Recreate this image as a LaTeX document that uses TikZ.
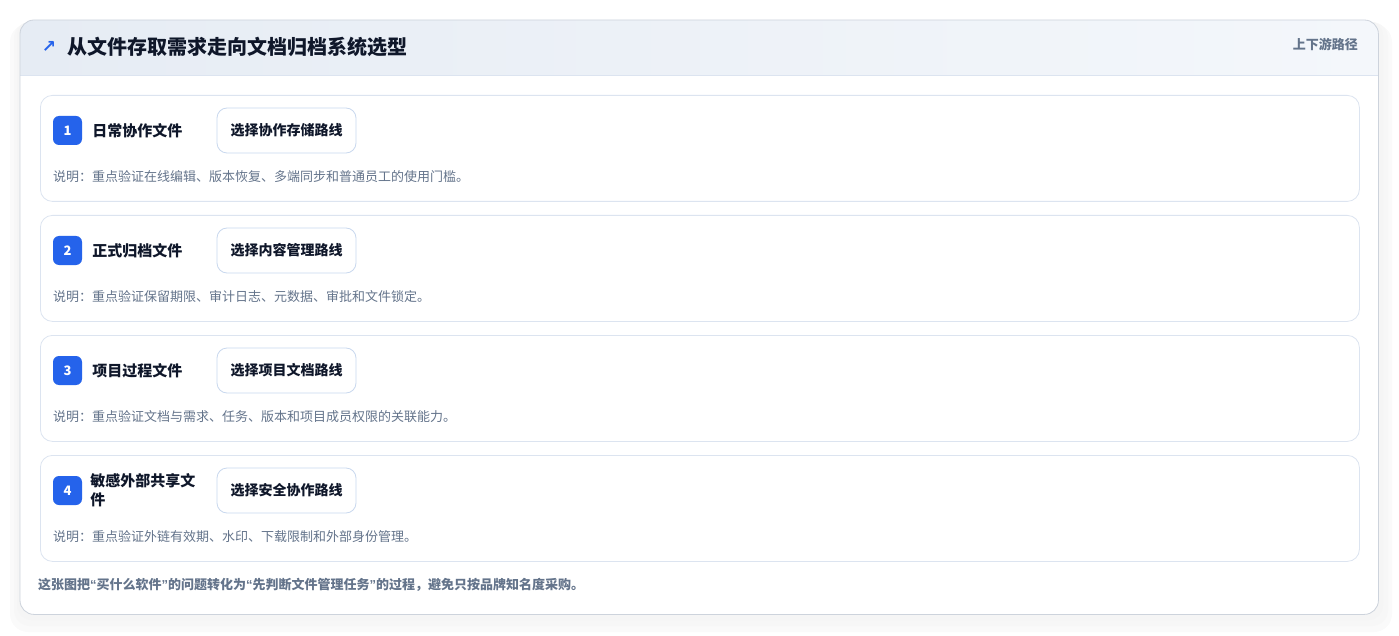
\documentclass[tikz,border=0pt]{standalone}
\usepackage{fontspec}
\setmainfont{Noto Sans CJK SC}
\newfontfamily\symfont{DejaVu Sans}
\newfontfamily\quotefont{Liberation Sans}
\usetikzlibrary{positioning}

\definecolor{inkdark}{HTML}{0F172A}
\definecolor{inkgray}{HTML}{64748B}
\definecolor{edgeblue}{HTML}{DCE4F0}
\definecolor{btnedge}{HTML}{C9D8EE}
\definecolor{headfill}{HTML}{E6ECF4}
\definecolor{headfade}{HTML}{F4F7FB}
\definecolor{badgeblue}{HTML}{2563EB}
\definecolor{cardedge}{HTML}{CDD3DC}

\newcommand{\openq}{{\quotefont “}}
\newcommand{\closeq}{{\quotefont ”}}

\tikzset{
  rowbox/.style={draw=edgeblue, fill=white, rounded corners=12pt, line width=0.8pt,
    minimum width=1319pt, minimum height=106pt, anchor=north west, inner sep=0pt},
  badge/.style={fill=badgeblue, rounded corners=6pt, minimum size=29pt, inner sep=0pt,
    text=white, font=\fontsize{13}{13}\selectfont\bfseries},
  kind/.style={inner sep=0pt, anchor=west, text=inkdark, align=left,
    font=\fontsize{15}{19}\selectfont\bfseries},
  route/.style={draw=btnedge, fill=white, rounded corners=10pt, line width=0.8pt,
    minimum width=139pt, minimum height=45pt, inner sep=0pt, text=inkdark,
    font=\fontsize{14}{14}\selectfont\bfseries},
  note/.style={inner sep=0pt, anchor=west, text=inkgray, font=\fontsize{13}{13}\selectfont}
}

\begin{document}
\begin{tikzpicture}[x=1pt, y=-1pt]
  \useasboundingbox (0,0) rectangle (1399,636);

  % shadow under the card
  \fill[black!2, rounded corners=18pt] (10,24) rectangle (1392,632);
  \fill[black!3, rounded corners=16pt] (14,22) rectangle (1388,626);
  \fill[black!4, rounded corners=15pt] (17,21) rectangle (1383,620);

  % card and header band
  \node[fill=white, rounded corners=14pt, minimum width=1358pt, minimum height=594pt,
        anchor=north west, inner sep=0pt] (card) at (20,20) {};
  \begin{scope}
    \clip[rounded corners=14pt] (card.north west) rectangle (card.south east);
    \shade[left color=headfill, right color=headfade] (card.north west) rectangle ([yshift=-55pt]card.north east);
    \draw[edgeblue, line width=0.8pt] ([yshift=-55pt]card.north west) -- ([yshift=-55pt]card.north east);
  \end{scope}
  \draw[cardedge, line width=0.8pt, rounded corners=14pt] (card.north west) rectangle (card.south east);

  \node[text=badgeblue, inner sep=0pt, font=\symfont\fontsize{17}{17}\selectfont\bfseries] (arrow) at (49,47) {↗};
  \node[inner sep=0pt, anchor=west, text=inkdark, font=\fontsize{20}{20}\selectfont\bfseries] (title) at (67,47) {从文件存取需求走向文档归档系统选型};
  \node[inner sep=0pt, anchor=east, text=inkgray, font=\fontsize{13}{13}\selectfont\bfseries] (flow) at (1358,44) {上下游路径};

  % row 1
  \node[rowbox] (row1) at (40,95) {};
  \node[badge] (badge1) at (67.5,130.5) {1};
  \node[kind, right=10pt of badge1] (kind1) {日常协作文件};
  \node[route] (route1) at (286.5,130.5) {选择协作存储路线};
  \node[note] (note1) at (53,177) {说明：重点验证在线编辑、版本恢复、多端同步和普通员工的使用门槛。};

  % row 2
  \node[rowbox] (row2) at (40,215) {};
  \node[badge] (badge2) at (67.5,250.5) {2};
  \node[kind, right=10pt of badge2] (kind2) {正式归档文件};
  \node[route] (route2) at (286.5,250.5) {选择内容管理路线};
  \node[note] (note2) at (53,297) {说明：重点验证保留期限、审计日志、元数据、审批和文件锁定。};

  % row 3
  \node[rowbox] (row3) at (40,335) {};
  \node[badge] (badge3) at (67.5,370.5) {3};
  \node[kind, right=10pt of badge3] (kind3) {项目过程文件};
  \node[route] (route3) at (286.5,370.5) {选择项目文档路线};
  \node[note] (note3) at (53,417) {说明：重点验证文档与需求、任务、版本和项目成员权限的关联能力。};

  % row 4
  \node[rowbox] (row4) at (40,455) {};
  \node[badge] (badge4) at (67.5,490.5) {4};
  \node[kind, right=8pt of badge4] (kind4) {敏感外部共享文\\件};
  \node[route] (route4) at (286.5,490.5) {选择安全协作路线};
  \node[note] (note4) at (53,537) {说明：重点验证外链有效期、水印、下载限制和外部身份管理。};

  % footer
  \node[note, font=\fontsize{13}{13}\selectfont\bfseries] (footer) at (38,585) {这张图把\openq 买什么软件\closeq 的问题转化为\openq 先判断文件管理任务\closeq 的过程，避免只按品牌知名度采购。};
\end{tikzpicture}
\end{document}
